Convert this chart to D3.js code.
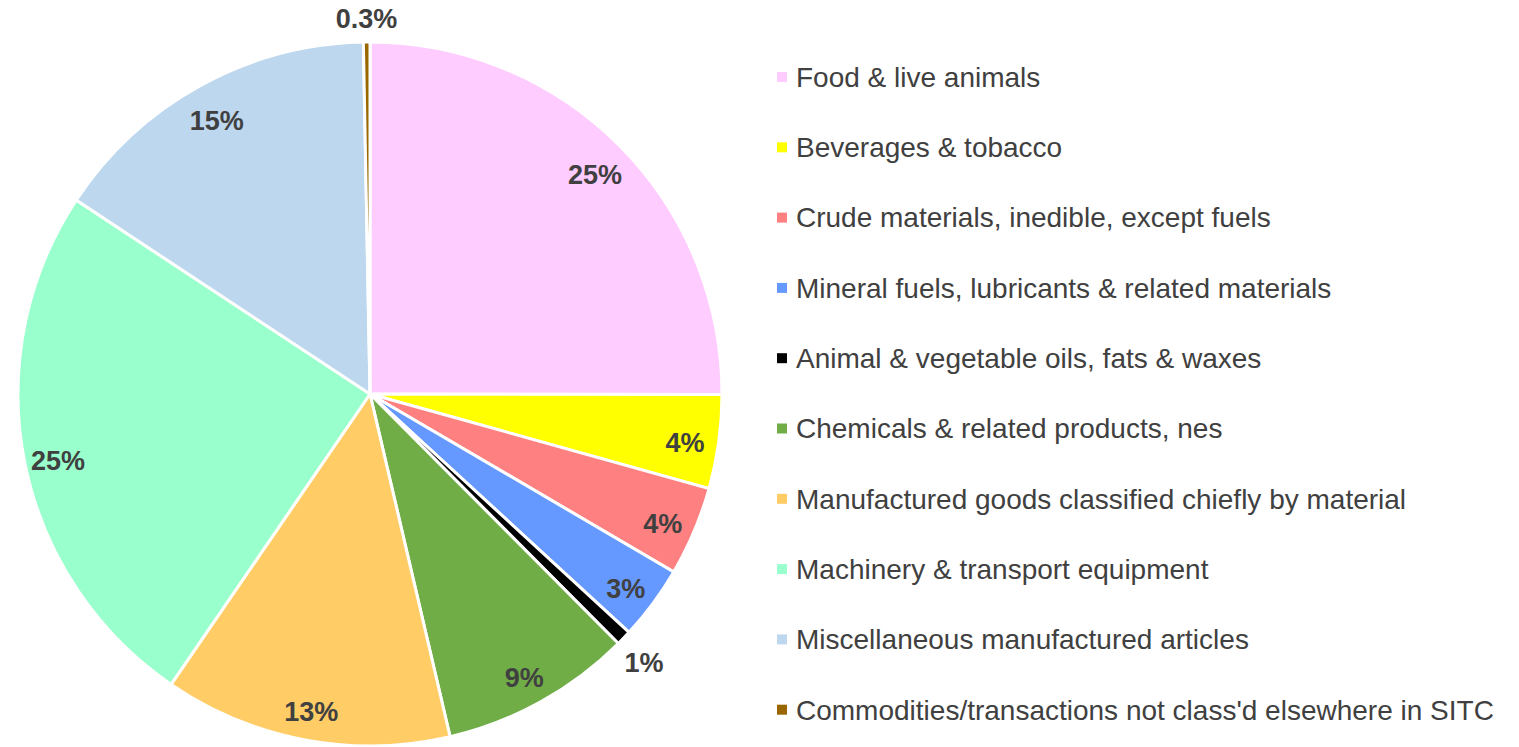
<!DOCTYPE html>
<meta charset="UTF-8">
<style>
body { margin: 0; background: #fff; font-family: "Liberation Sans", Arial, sans-serif; }
.slice { stroke: #fff; stroke-width: 3px; }
.pct { font-weight: bold; font-size: 27px; fill: #404040; }
.legend text { font-size: 28px; fill: #404040; }
</style>
<body>
<script src="https://d3js.org/d3.v7.min.js"></script>
<script>

// categories, shares (%) and colours
var categories = [
  "Food & live animals",
  "Beverages & tobacco",
  "Crude materials, inedible, except fuels",
  "Mineral fuels, lubricants & related materials",
  "Animal & vegetable oils, fats & waxes",
  "Chemicals & related products, nes",
  "Manufactured goods classified chiefly by material",
  "Machinery & transport equipment",
  "Miscellaneous manufactured articles",
  "Commodities/transactions not class'd elsewhere in SITC"
];
var shares = [25.0, 4.3, 4.1, 3.4, 0.7, 8.8, 13.2, 24.7, 15.4, 0.3];
var colors = ["#FFCCFF", "#FFFF00", "#FF8080", "#6699FF", "#000000",
              "#70AD47", "#FFCC66", "#99FFCC", "#BDD7EE", "#996600"];

var width = 1519, height = 747;
var cx = 370, cy = 394, radius = 352;

var svg = d3.select("body").append("svg")
    .attr("width", width)
    .attr("height", height);

var g = svg.append("g")
    .attr("transform", "translate(" + cx + "," + cy + ")");

var pie = d3.pie().sort(null).value(function(d) { return d; });
var arcs = pie(shares);
var total = d3.sum(shares);

var arc = d3.arc().innerRadius(0).outerRadius(radius);
var labelArc = d3.arc().innerRadius(318).outerRadius(318);
var outerArc = d3.arc().innerRadius(380).outerRadius(380);

g.selectAll("path.slice")
    .data(arcs)
  .enter().append("path")
    .attr("class", "slice")
    .attr("d", arc)
    .attr("fill", function(d, i) { return colors[i]; });

function fmt(v) {
  var p = v / total * 100;
  return (p < 0.5 ? p.toFixed(1) : Math.round(p)) + "%";
}

g.selectAll("text.pct")
    .data(arcs)
  .enter().append("text")
    .attr("class", "pct")
    .attr("text-anchor", "middle")
    .attr("dy", "0.35em")
    .attr("transform", function(d) {
      // tiny slices get their label outside the pie
      var small = (d.endAngle - d.startAngle) < 0.05;
      var c = small ? outerArc.centroid(d) : labelArc.centroid(d);
      return "translate(" + c[0] + "," + (c[1] + 5) + ")";
    })
    .text(function(d) { return fmt(d.value); });

// legend
var legend = svg.append("g").attr("class", "legend")
    .attr("transform", "translate(777,77)");

var row = legend.selectAll("g")
    .data(categories)
  .enter().append("g")
    .attr("transform", function(d, i) { return "translate(0," + (i * 70.3) + ")"; });

row.append("rect")
    .attr("x", 0).attr("y", -5)
    .attr("width", 10).attr("height", 10)
    .attr("fill", function(d, i) { return colors[i]; });

row.append("text")
    .attr("x", 19)
    .attr("dy", "0.35em")
    .text(function(d) { return d; });

</script>
</body>
